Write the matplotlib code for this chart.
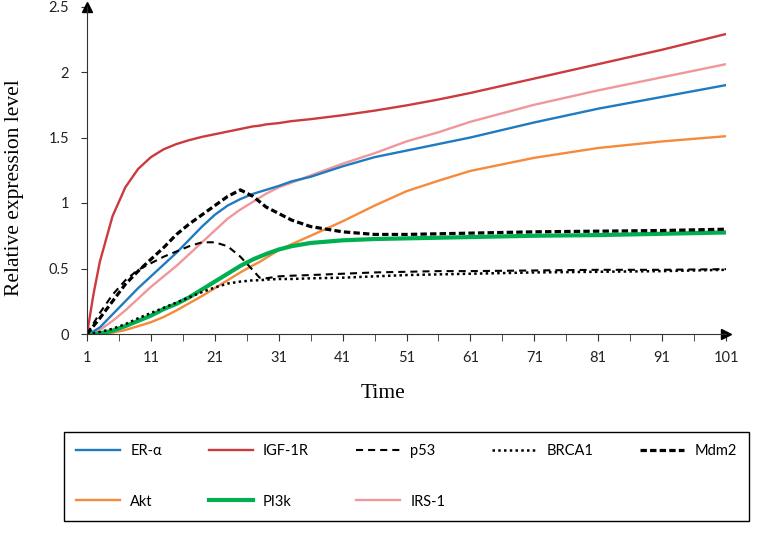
import numpy as np
import matplotlib
matplotlib.use("Agg")
import matplotlib.pyplot as plt

# time points
time = [1, 2, 3, 5, 7, 9, 11, 13, 15, 17, 19, 21, 23, 25, 27, 28, 29, 31, 33, 36,
        41, 46, 51, 56, 61, 71, 81, 91, 101]

er_alpha = [0, 0.02, 0.05, 0.15, 0.25, 0.35, 0.44, 0.53, 0.62, 0.72, 0.82, 0.91, 0.98,
            1.03, 1.07, 1.085, 1.10, 1.13, 1.165, 1.20, 1.28, 1.35, 1.40, 1.45, 1.50,
            1.615, 1.72, 1.81, 1.90]
igf1r = [0, 0.30, 0.55, 0.90, 1.12, 1.26, 1.35, 1.41, 1.45, 1.48, 1.505, 1.525, 1.545,
         1.565, 1.585, 1.59, 1.60, 1.61, 1.625, 1.64, 1.67, 1.705, 1.745, 1.79, 1.84,
         1.95, 2.06, 2.17, 2.29]
p53 = [0, 0.08, 0.16, 0.30, 0.41, 0.49, 0.54, 0.59, 0.63, 0.67, 0.70, 0.70, 0.67,
       0.59, 0.485, 0.43, 0.425, 0.44, 0.445, 0.45, 0.46, 0.47, 0.475, 0.48, 0.48,
       0.485, 0.49, 0.49, 0.495]
brca1 = [0, 0.005, 0.015, 0.04, 0.075, 0.12, 0.16, 0.20, 0.24, 0.28, 0.32, 0.355,
         0.385, 0.40, 0.41, 0.41, 0.415, 0.42, 0.42, 0.425, 0.43, 0.44, 0.45, 0.455,
         0.46, 0.47, 0.475, 0.48, 0.49]
mdm2 = [0, 0.06, 0.12, 0.25, 0.38, 0.48, 0.57, 0.66, 0.76, 0.84, 0.91, 0.98, 1.05,
        1.10, 1.05, 1.01, 0.97, 0.92, 0.87, 0.82, 0.78, 0.76, 0.76, 0.765, 0.77,
        0.78, 0.785, 0.79, 0.80]
akt = [0, 0, 0, 0.01, 0.03, 0.06, 0.09, 0.13, 0.18, 0.235, 0.29, 0.35, 0.41, 0.47,
       0.525, 0.55, 0.58, 0.64, 0.685, 0.75, 0.86, 0.98, 1.09, 1.17, 1.245, 1.345,
       1.42, 1.47, 1.51]
pi3k = [0, 0, 0.005, 0.025, 0.06, 0.10, 0.14, 0.19, 0.23, 0.28, 0.34, 0.40, 0.46,
        0.52, 0.57, 0.59, 0.61, 0.645, 0.67, 0.695, 0.715, 0.725, 0.73, 0.735, 0.74,
        0.75, 0.755, 0.765, 0.775]
irs1 = [0, 0.01, 0.03, 0.10, 0.18, 0.27, 0.36, 0.44, 0.52, 0.61, 0.70, 0.79, 0.88,
        0.95, 1.01, 1.04, 1.07, 1.12, 1.155, 1.21, 1.30, 1.38, 1.47, 1.54, 1.62,
        1.75, 1.86, 1.96, 2.06]

xticks = list(range(1, 102, 10))
yticks = [0, 0.5, 1, 1.5, 2, 2.5]
yticklabels = ["0", "0.5", "1", "1.5", "2", "2.5"]

sans = ["Lato", "DejaVu Sans"]

fig = plt.figure(figsize=(7.57, 5.34), dpi=100)
ax = fig.add_axes([87 / 757, 1 - 334 / 534, (726 - 87) / 757, (334 - 6.5) / 534])

l_akt, = ax.plot(time, akt, color="#F58A3C", lw=1.7, label="Akt")
l_irs, = ax.plot(time, irs1, color="#F0979B", lw=1.7, label="IRS-1")
l_er, = ax.plot(time, er_alpha, color="#1F7BC0", lw=1.7, label="ER-α")
l_igf, = ax.plot(time, igf1r, color="#CB3A3C", lw=1.7, label="IGF-1R")
l_pi3k, = ax.plot(time, pi3k, color="#00B050", lw=3.0, label="PI3k")
l_brca, = ax.plot(time, brca1, color="black", lw=1.8, ls=(0, (1, 1.3)), label="BRCA1")
l_p53, = ax.plot(time, p53, color="black", lw=1.5, ls=(0, (3.4, 2.4)), label="p53")
l_mdm2, = ax.plot(time, mdm2, color="black", lw=2.3, ls=(0, (2.0, 1.0)), label="Mdm2")

ax.set_xlim(1, 101)
ax.set_ylim(0, 2.5)
ax.spines["top"].set_visible(False)
ax.spines["right"].set_visible(False)
ax.spines["left"].set_color("#333333")
ax.spines["bottom"].set_color("#333333")

# arrow heads at the ends of the axes
ax.plot([1], [2.5], marker="^", color="black", markersize=7, clip_on=False)
ax.plot([101], [0], marker=">", color="black", markersize=7, clip_on=False)

ax.set_xticks(xticks)
ax.set_xticks(list(range(6, 102, 10)), minor=True)
ax.set_yticks(yticks)
ax.set_yticklabels(yticklabels)
ax.tick_params(axis="x", which="both", direction="out", length=5, color="#333333", pad=7)
ax.tick_params(axis="y", direction="out", length=4, color="#333333", pad=9)
for lab in ax.get_xticklabels() + ax.get_yticklabels():
    lab.set_family(sans)
    lab.set_fontsize(10.5)
    lab.set_color("#222222")

fig.text(15 / 757, 1 - 188 / 534, "Relative expression level", rotation=90,
         ha="center", va="center", family="Liberation Serif", fontsize=15.5)
fig.text(383 / 757, 1 - 393 / 534, "Time", ha="center", va="center",
         family="Liberation Serif", fontsize=15.5)

handles = [l_er, l_akt, l_igf, l_pi3k, l_p53, l_irs, l_brca, l_mdm2]
leg = fig.legend(handles=handles, labels=[h.get_label() for h in handles],
                 loc="upper left", mode="expand", ncol=5,
                 bbox_to_anchor=(64 / 757, 1 - 437 / 534, (749 - 64) / 757, 0.01),
                 borderaxespad=0, borderpad=0.85, labelspacing=2.5,
                 handlelength=3.0, handletextpad=0.7, columnspacing=1.0,
                 fancybox=False, framealpha=1, edgecolor="black",
                 prop={"family": sans, "size": 10.5})
leg.get_frame().set_linewidth(1.0)

fig.savefig("out.png", dpi=100)
